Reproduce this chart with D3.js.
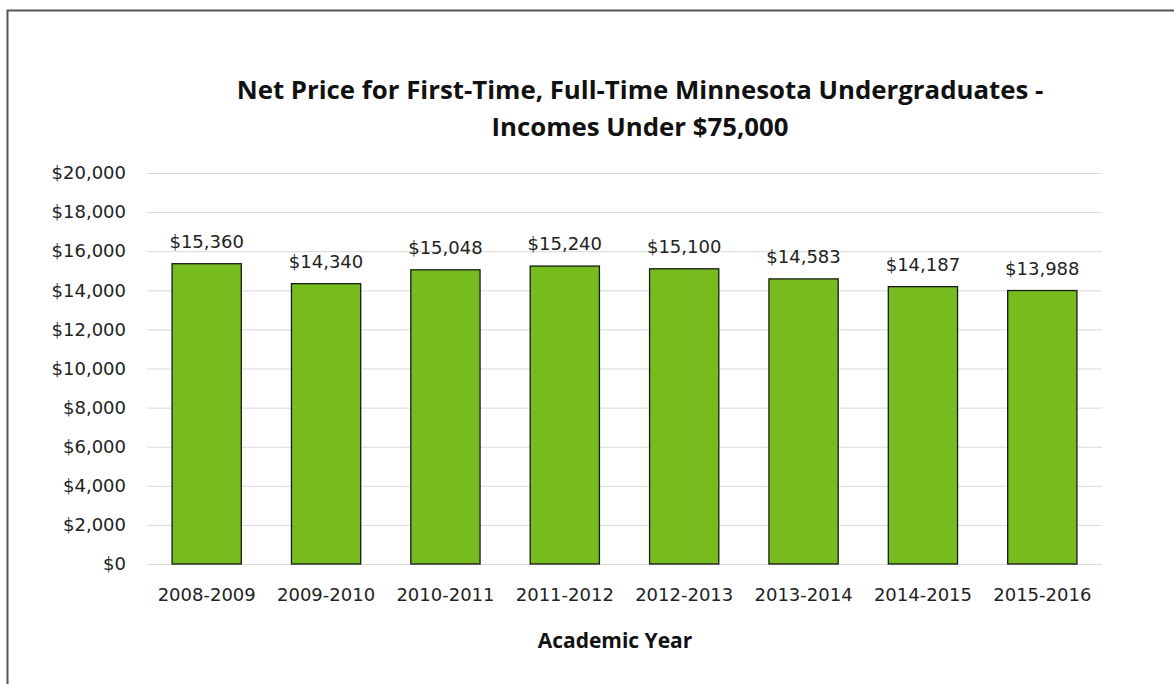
<!doctype html>
<html>
<head>
	<script src="https://d3js.org/d3.v7.min.js"></script>
	<style>
		body { margin: 0; background: #fff; }
		text { font-family: "DejaVu Sans", sans-serif; fill: #222; }
		.title { font-family: "Open Sans", "Noto Sans", sans-serif; font-weight: bold; fill: #111; }
	</style>
</head>
<body>
	<svg id="chart" width="1174" height="684"></svg>
	<script>

		var years = ["2008-2009", "2009-2010", "2010-2011", "2011-2012", "2012-2013", "2013-2014", "2014-2015", "2015-2016"];
		var netPrice = [15360, 14340, 15048, 15240, 15100, 14583, 14187, 13988];
		var yTicks = [0, 2000, 4000, 6000, 8000, 10000, 12000, 14000, 16000, 18000, 20000];
		var titleLines = ["Net Price for First-Time, Full-Time Minnesota Undergraduates -", "Incomes Under $75,000"];

		var data = years.map((y, i) => ({ year: y, value: netPrice[i] }));

		var svg = d3.select("#chart");
		var margin = {top: 173, right: 72, bottom: 120, left: 147};
		var width = 1174, height = 684;

		// frame
		svg.append("path")
			.attr("d", "M7.5,684 V10.5 H1174")
			.attr("fill", "none")
			.attr("stroke", "#555")
			.attr("stroke-width", 2);

		var xScale = d3.scaleBand()
			.domain(years)
			.range([margin.left, width - margin.right])
			.paddingInner(0.42)
			.paddingOuter(0.21);

		var yScale = d3.scaleLinear()
			.domain([0, 20000])
			.range([height - margin.bottom, margin.top]);

		var fmt = d3.format("$,");

		// gridlines
		svg.append("g")
			.selectAll("line")
			.data(yTicks)
			.enter()
			.append("line")
				.attr("x1", margin.left)
				.attr("x2", width - margin.right)
				.attr("y1", d => yScale(d) + 0.5)
				.attr("y2", d => yScale(d) + 0.5)
				.attr("stroke", "#d9d9d9")
				.attr("stroke-width", 1);

		// y axis labels
		var yAxis = d3.axisLeft(yScale).tickValues(yTicks).tickFormat(fmt).tickSize(0).tickPadding(21);
		svg.append("g")
			.attr("transform", "translate(" + margin.left + ",0)")
			.call(yAxis)
			.call(g => g.select(".domain").remove())
			.selectAll("text")
				.style("font-family", "DejaVu Sans")
				.style("font-size", "18px")
				.attr("fill", "#222");

		// bars
		svg.append("g")
			.selectAll("rect")
			.data(data)
			.enter()
			.append("rect")
				.attr("x", d => xScale(d.year))
				.attr("y", d => yScale(d.value))
				.attr("width", xScale.bandwidth())
				.attr("height", d => yScale(0) - yScale(d.value))
				.attr("fill", "#77bc1f")
				.attr("stroke", "#1a1a1a")
				.attr("stroke-width", 1.3);

		// value labels
		svg.append("g")
			.selectAll("text")
			.data(data)
			.enter()
			.append("text")
				.attr("x", d => xScale(d.year) + xScale.bandwidth() / 2)
				.attr("y", d => yScale(d.value) - 16)
				.attr("text-anchor", "middle")
				.style("font-size", "18px")
				.text(d => fmt(d.value));

		// x axis labels
		var xAxis = d3.axisBottom(xScale).tickSize(0).tickPadding(24);
		svg.append("g")
			.attr("transform", "translate(0," + yScale(0) + ")")
			.call(xAxis)
			.call(g => g.select(".domain").remove())
			.selectAll("text")
				.style("font-family", "DejaVu Sans")
				.style("font-size", "18px")
				.attr("fill", "#222");

		// x axis title
		svg.append("text")
			.attr("class", "title")
			.attr("x", 615)
			.attr("y", 648)
			.attr("text-anchor", "middle")
			.style("font-size", "21px")
			.text("Academic Year");

		// chart title
		svg.append("g")
			.selectAll("text")
			.data(titleLines)
			.enter()
			.append("text")
				.attr("class", "title")
				.attr("x", 640)
				.attr("y", (d, i) => 99 + i * 37)
				.attr("text-anchor", "middle")
				.style("font-size", "25.8px")
				.text(d => d);

	</script>
</body>
</html>
